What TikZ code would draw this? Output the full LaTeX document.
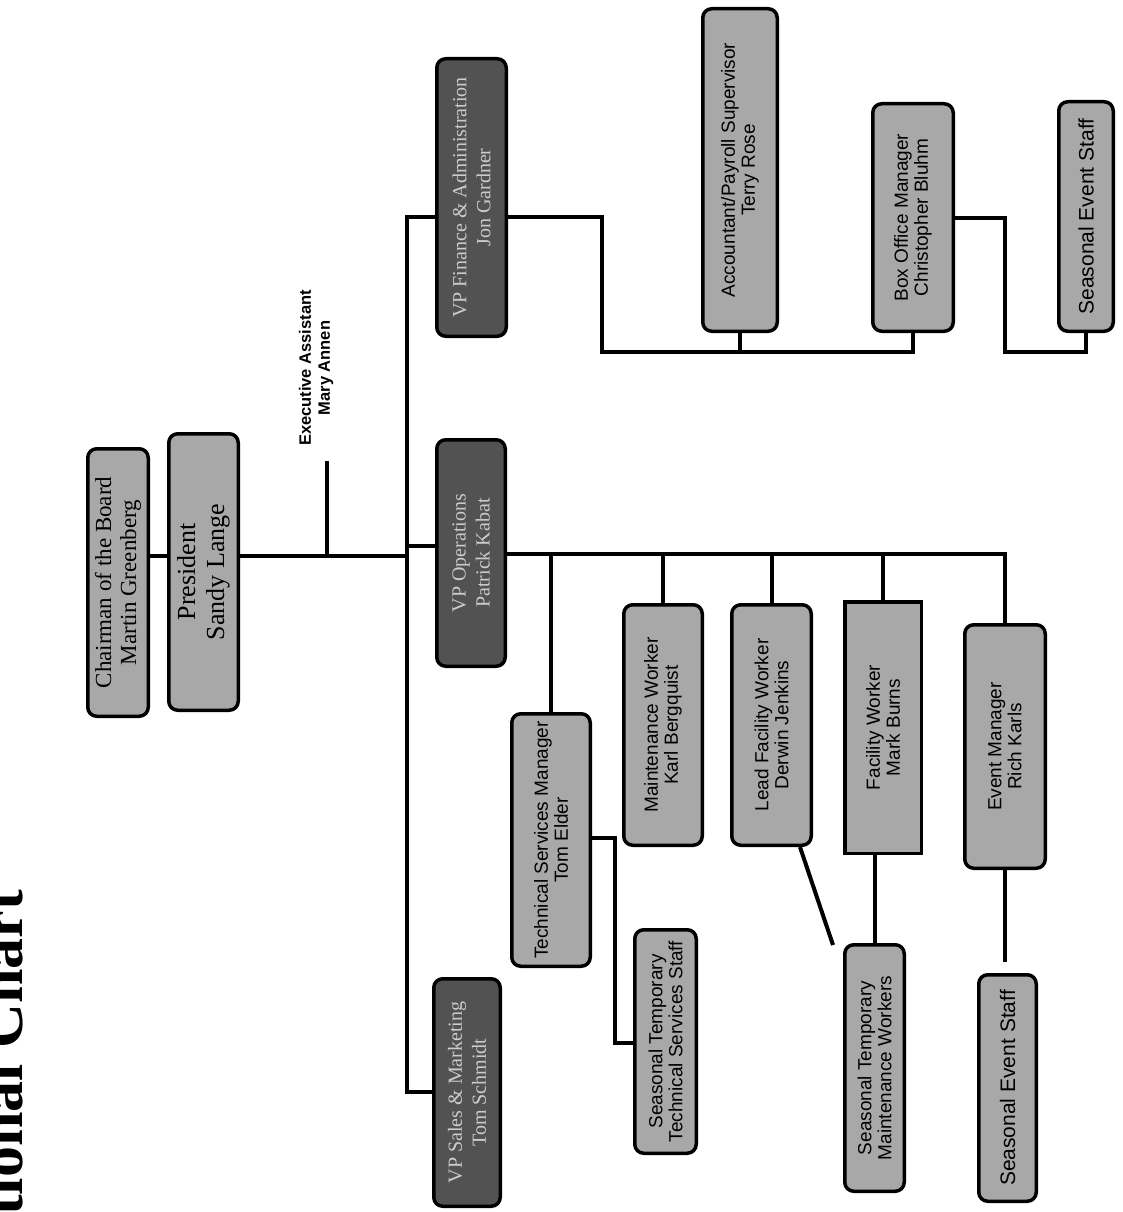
\documentclass[tikz,border=0pt]{standalone}
\usepackage{fontspec}
\setmainfont{Liberation Serif}
\newfontfamily\arialf{Liberation Sans}
\usetikzlibrary{calc}
\definecolor{lightbox}{gray}{0.66}
\definecolor{darkbox}{gray}{0.32}
\definecolor{darktext}{gray}{0.80}
\begin{document}
\begin{tikzpicture}[x=1pt,y=-1pt,
  orgbox/.style={draw=black, line width=3.5pt, rounded corners=9pt, fill=lightbox, rotate=90,
    inner sep=0pt, align=center, font=\arialf\fontsize{19}{20}\selectfont},
  squarebox/.style={orgbox, sharp corners},
  vpbox/.style={orgbox, fill=darkbox, text=darktext, font=\fontsize{20}{24}\selectfont},
  topbox/.style={orgbox, font=\fontsize{26}{29}\selectfont},
  chairbox/.style={orgbox, font=\fontsize{23}{25}\selectfont},
  bigtext/.style={font=\arialf\fontsize{21}{23}\selectfont},
  dims/.style 2 args={minimum width=#2pt-3.5pt, minimum height=#1pt-3.5pt},
  conn/.style={line width=4pt, line cap=rect}]
\useasboundingbox (0,0) rectangle (1123,1212);
\clip (0,0) rectangle (1123,1212);
\fill[white] (0,0) rectangle (1123,1212);

% title (cut by the left edge)
\node[rotate=90, anchor=base east, inner sep=0pt, font=\bfseries\fontsize{62}{62}\selectfont] (title) at (22,890) {Organizational Chart};

% top of the chart
\node[chairbox, dims={64}{271}] (chair) at (118,582.5) {Chairman of the Board\\Martin Greenberg};
\node[topbox, dims={73}{280}] (pres) at (203.5,572) {President\\Sandy Lange};
\node[rotate=90, align=center, inner sep=0pt, font=\arialf\bfseries\fontsize{16.5}{19}\selectfont] (exec) at (316,368) {Executive Assistant\\Mary Annen};

% vice presidents
\node[vpbox, dims={73}{281}] (vpfin) at (471.5,197.5) {VP Finance \& Administration\\Jon Gardner};
\node[vpbox, dims={72}{230}] (vpops) at (471,553) {VP Operations\\Patrick Kabat};
\node[vpbox, dims={70}{231}] (vpsales) at (467,1092.5) {VP Sales \& Marketing\\Tom Schmidt};

% finance branch
\node[orgbox, dims={78}{326}] (acct) at (740,170) {Accountant/Payroll Supervisor\\Terry Rose};
\node[orgbox, dims={84}{231}] (boxoff) at (913,217.5) {Box Office Manager\\Christopher Bluhm};
\node[orgbox, bigtext, dims={58}{233}] (sestop) at (1086,216.5) {Seasonal Event Staff};

% operations branch
\node[orgbox, dims={82}{256}] (tsm) at (551,840) {Technical Services Manager\\Tom Elder};
\node[orgbox, dims={65}{227}] (stts) at (665.5,1041.5) {Seasonal Temporary\\Technical Services Staff};
\node[orgbox, dims={82}{244}] (mw) at (663,725) {Maintenance Worker\\Karl Bergquist};
\node[orgbox, dims={83}{244}] (lfw) at (771.5,725) {Lead Facility Worker\\Derwin Jenkins};
\node[squarebox, dims={80}{255}] (fw) at (883,727.5) {Facility Worker\\Mark Burns};
\node[orgbox, dims={84}{247}] (em) at (1005,746.5) {Event Manager\\Rich Karls};
\node[orgbox, dims={63}{250}] (stmw) at (874.5,1068) {Seasonal Temporary\\Maintenance Workers};
\node[orgbox, bigtext, dims={61}{230}] (sesbot) at (1007.5,1088) {Seasonal Event Staff};

% junction points
\coordinate (trunk) at (407,556);
\coordinate (bustop) at (407,217);
\coordinate (busbot) at (407,1092);
\coordinate (extop) at (327,463);
\coordinate (exjoin) at (327,556);
\coordinate (opsjoin) at (407,546);
\coordinate (f1) at (602,217);
\coordinate (f2) at (602,352);
\coordinate (f3) at (913,352);
\coordinate (b1) at (1005,217.5);
\coordinate (b2) at (1005,352);
\coordinate (b3) at (1086,352);
\coordinate (o1) at (1005,554);
\coordinate (t1) at (615,838);
\coordinate (t2) at (615,1043);
\coordinate (diagend) at (833,945);
\coordinate (emend) at (1005,960);

% connectors
\draw[conn] (chair.south |- trunk) -- (pres.north |- trunk);
\draw[conn] (pres.south |- trunk) -- (trunk);
\draw[conn] (extop) -- (exjoin);
\draw[conn] (vpfin.north |- bustop) -- (bustop) -- (busbot) -- (vpsales.north |- busbot);
\draw[conn] (opsjoin) -- (vpops.north |- opsjoin);
\draw[conn] (vpfin.south |- f1) -- (f1) -- (f2) -- (f3) -- (boxoff.west);
\draw[conn] (acct.west) -- (acct.west |- f2);
\draw[conn] (boxoff.south) -- (b1) -- (b2) -- (b3) -- (sestop.west);
\draw[conn] (vpops.south |- o1) -- (o1) -- (em.east);
\draw[conn] (tsm.east |- o1) -- (tsm.east);
\draw[conn] (mw.east |- o1) -- (mw.east);
\draw[conn] (lfw.east |- o1) -- (lfw.east);
\draw[conn] (fw.east |- o1) -- (fw.east);
\draw[conn] (tsm.south |- t1) -- (t1) -- (t2) -- (stts.north |- t2);
\draw[line width=4pt] ($(lfw.west)+(28.5,0)$) -- (diagend);
\draw[conn] (fw.west -| stmw.east) -- (stmw.east);
\draw[conn] (em.west) -- (emend);
\end{tikzpicture}
\end{document}
